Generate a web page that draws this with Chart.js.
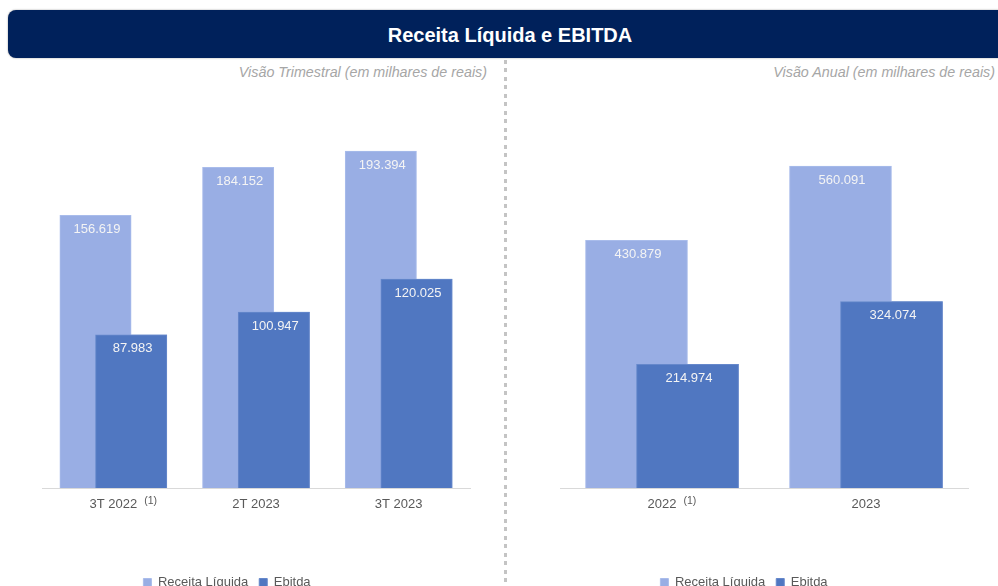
<!DOCTYPE html>
<html><head><meta charset="utf-8">
<script src="https://cdn.jsdelivr.net/npm/chart.js@4/dist/chart.umd.min.js"></script>
<style>
html,body{margin:0;padding:0;width:998px;height:586px;overflow:hidden;background:#fff;font-family:"Liberation Sans",Arial,sans-serif;}
#hdr{position:absolute;left:8px;top:10px;width:1010px;height:48px;background:#00215b;border-radius:8px;box-shadow:0 0 2px rgba(0,0,0,0.4);}
#ttl{position:absolute;left:0;top:11px;width:1020px;text-align:center;line-height:48px;color:#fff;font-weight:bold;font-size:20px;}
.sub{position:absolute;top:64px;line-height:16px;font-style:italic;font-size:14.3px;color:#a6a6a6;white-space:nowrap;}
#s1{right:511px;}
#s2{right:3px;}
#divl{position:absolute;left:504px;top:60px;width:3px;height:540px;background:repeating-linear-gradient(to bottom,#c4c4c4 0px,#c4c4c4 4px,transparent 4px,transparent 8.5px);}
canvas{position:absolute;top:60px;}
#c1{left:0;}
#c2{left:510px;}
</style></head>
<body>
<div id="hdr"></div>
<div id="ttl">Receita Líquida e EBITDA</div>
<div class="sub" id="s1">Visão Trimestral (em milhares de reais)</div>
<div class="sub" id="s2">Visão Anual (em milhares de reais)</div>
<div id="divl"></div>
<canvas id="c1" width="505" height="539"></canvas>
<canvas id="c2" width="488" height="539"></canvas>
<script>
const seriesNames = ['Receita Líquida', 'Ebitda'];
const quarterLabels = ['3T 2022', '2T 2023', '3T 2023'];
const quarterNotes = ['(1)', '', ''];
const quarterReceita = [156619, 184152, 193394];
const quarterEbitda = [87983, 100947, 120025];
const yearLabels = ['2022', '2023'];
const yearNotes = ['(1)', ''];
const yearReceita = [430879, 560091];
const yearEbitda = [214974, 324074];

const FONT = '"Liberation Sans", Arial, sans-serif';
const COL_REC = '#99aee4';
const COL_EBT = '#5077c1';

function fmt(v){ return String(v).replace(/\B(?=(\d{3})+(?!\d))/g, '.'); }

// Chart.js paints the first dataset last; repaint Ebitda so it overlaps Receita, then add value labels
const valueLabels = {
  id: 'valueLabels',
  afterDatasetsDraw(chart){
    const ctx = chart.ctx;
    const meta1 = chart.getDatasetMeta(1);
    ctx.save();
    meta1.controller.draw();
    ctx.restore();
    ctx.save();
    ctx.font = '13px ' + FONT;
    ctx.fillStyle = '#f4f4f4';
    ctx.textAlign = 'center';
    ctx.textBaseline = 'middle';
    chart.data.datasets.forEach((ds, i) => {
      chart.getDatasetMeta(i).data.forEach((bar, j) => {
        ctx.fillText(fmt(ds.data[j]), bar.x + 1.5, bar.y + 14);
      });
    });
    ctx.restore();
  }
};

const tickNotes = {
  id: 'tickNotes',
  afterDraw(chart, args, opts){
    const notes = opts.notes || [];
    const xs = chart.scales.x;
    const ctx = chart.ctx;
    ctx.save();
    notes.forEach((n, i) => {
      if (!n) return;
      ctx.font = '13px ' + FONT;
      const w = ctx.measureText(chart.data.labels[i]).width;
      const x = xs.getPixelForTick(i);
      ctx.font = '10.5px ' + FONT;
      ctx.fillStyle = '#595959';
      ctx.textAlign = 'left';
      ctx.textBaseline = 'middle';
      ctx.fillText(n, x + w / 2 + 7, xs.top + 13);
    });
    ctx.restore();
  }
};

const legendShift = {
  id: 'legendShift',
  afterLayout(chart, args, opts){
    const l = chart.legend;
    if (l) { l.left += opts.dx; l.right += opts.dx; }
  }
};

function makeChart(id, labels, notes, rec, ebt, ymax, padL, padR, dx){
  return new Chart(document.getElementById(id), {
    type: 'bar',
    data: {
      labels: labels,
      datasets: [
        { label: seriesNames[0], data: rec, backgroundColor: COL_REC, borderColor: '#a9bceb', borderWidth: 1 },
        { label: seriesNames[1], data: ebt, backgroundColor: COL_EBT, borderColor: '#6688cb', borderWidth: 1 }
      ]
    },
    options: {
      responsive: false,
      animation: false,
      layout: { padding: { left: padL, right: padR, top: 10, bottom: 0 } },
      datasets: { bar: { categoryPercentage: 0.5, barPercentage: 2 } },
      scales: {
        x: {
          grid: { display: false, drawTicks: false },
          border: { display: true, color: '#d9d9d9', width: 1 },
          ticks: { color: '#595959', font: { size: 13, family: FONT }, padding: 9 },
          afterFit(s){ s.height = 77; }
        },
        y: { display: false, min: 0, max: ymax }
      },
      plugins: {
        legend: {
          position: 'bottom',
          labels: { boxWidth: 8, boxHeight: 8, padding: 11, color: '#595959', font: { size: 13, family: FONT } }
        },
        tooltip: { enabled: false },
        tickNotes: { notes: notes },
        legendShift: { dx: dx }
      }
    },
    plugins: [valueLabels, tickNotes, legendShift]
  });
}

makeChart('c1', quarterLabels, quarterNotes, quarterReceita, quarterEbitda, 240000, 42, 35, -29);
makeChart('c2', yearLabels, yearNotes, yearReceita, yearEbitda, 727000, 50, 30, -20);
</script>
</body></html>
